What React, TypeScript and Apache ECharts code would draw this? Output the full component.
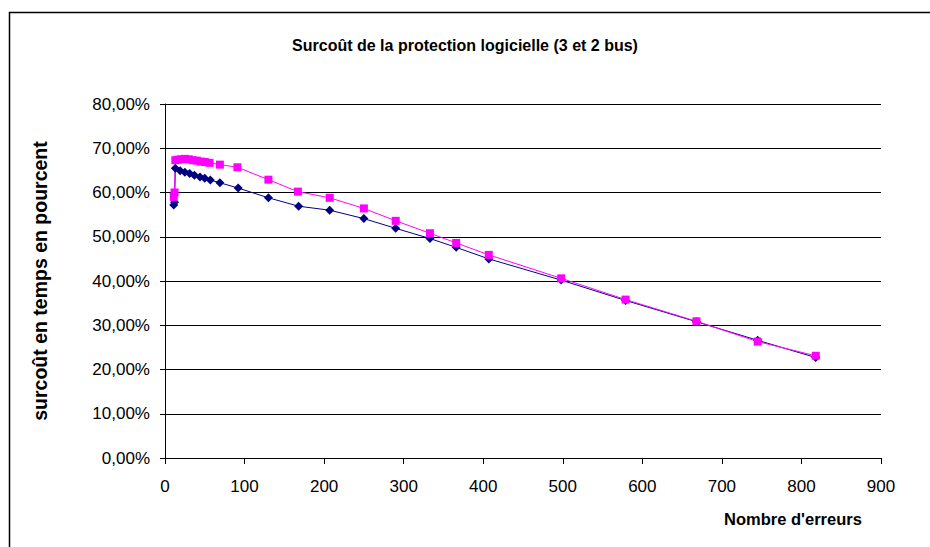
import React, { useEffect, useRef } from "react";
import * as echarts from "echarts";

const titleText = "Surcoût de la protection logicielle (3 et 2 bus)";
const yAxisName = "surcoût en temps en pourcent";
const xAxisName = "Nombre d'erreurs";

const navyX = [11, 12, 13, 19, 25, 31, 37, 44, 50, 57, 69, 92, 130, 168, 207, 250, 290, 333, 366, 407, 498, 579, 668, 745, 818];
const navyY = [57.2, 57.8, 65.5, 64.9, 64.6, 64.3, 63.9, 63.5, 63.2, 62.8, 62.2, 61.0, 58.8, 56.9, 56.0, 54.1, 51.9, 49.6, 47.6, 45.0, 40.2, 35.6, 30.8, 26.6, 22.7];

const pinkX = [11, 12, 13, 16, 20, 25, 30, 35, 40, 45, 50, 56, 69, 91, 130, 167, 207, 250, 290, 333, 366, 407, 498, 579, 668, 745, 818];
const pinkY = [59.0, 60.0, 67.3, 67.4, 67.5, 67.6, 67.5, 67.3, 67.2, 67.0, 66.9, 66.7, 66.3, 65.7, 62.9, 60.2, 58.8, 56.4, 53.6, 50.8, 48.6, 45.9, 40.6, 35.8, 30.9, 26.3, 23.1];

const FONT = "'Liberation Sans', Arial, sans-serif";

export default function App() {
  const ref = useRef<HTMLDivElement>(null);
  useEffect(() => {
    document.body.style.margin = "0";
    const chart = echarts.init(ref.current!, null, { renderer: "svg" });
    chart.setOption({
      animation: false,
      backgroundColor: "#ffffff",
      textStyle: { fontFamily: FONT },
      graphic: [
        {
          type: "rect",
          shape: { x: 9.5, y: 12.5, width: 1000, height: 1000 },
          style: { fill: "none", stroke: "#000", lineWidth: 1.5 },
          silent: true,
        },
        {
          type: "text",
          x: 465,
          y: 45,
          style: {
            text: titleText,
            fontFamily: FONT,
            fontSize: 16,
            fontWeight: "bold",
            fill: "#000",
            textAlign: "center",
            textVerticalAlign: "middle",
          },
        },
        {
          type: "text",
          x: 40,
          y: 281,
          rotation: Math.PI / 2,
          style: {
            text: yAxisName,
            fontFamily: FONT,
            fontSize: 19.5,
            fontWeight: "bold",
            fill: "#000",
            textAlign: "center",
            textVerticalAlign: "middle",
          },
        },
        {
          type: "text",
          x: 793,
          y: 519,
          style: {
            text: xAxisName,
            fontFamily: FONT,
            fontSize: 16.5,
            fontWeight: "bold",
            fill: "#000",
            textAlign: "center",
            textVerticalAlign: "middle",
          },
        },
      ],
      grid: { left: 165, right: 49, top: 104, bottom: 89 },
      xAxis: {
        type: "value",
        min: 0,
        max: 900,
        interval: 100,
        axisLine: { show: true, onZero: false, lineStyle: { color: "#000", width: 1 } },
        axisTick: { show: true, length: 6, lineStyle: { color: "#000" } },
        axisLabel: { color: "#000", fontSize: 17, fontFamily: FONT, margin: 20 },
        splitLine: { show: false },
      },
      yAxis: {
        type: "value",
        min: 0,
        max: 80,
        interval: 10,
        axisLine: { show: true, lineStyle: { color: "#000", width: 1 } },
        axisTick: { show: true, length: 5, lineStyle: { color: "#000" } },
        axisLabel: {
          color: "#000",
          fontSize: 17,
          fontFamily: FONT,
          margin: 15,
          formatter: (v: number) => v.toFixed(2).replace(".", ",") + "%",
        },
        splitLine: { show: true, lineStyle: { color: "#000", width: 1 } },
      },
      series: [
        {
          type: "line",
          name: "3 bus",
          data: navyX.map((x, i) => [x, navyY[i]]),
          symbol: "diamond",
          symbolSize: 9,
          lineStyle: { color: "#000080", width: 1 },
          itemStyle: { color: "#000080" },
        },
        {
          type: "line",
          name: "2 bus",
          data: pinkX.map((x, i) => [x, pinkY[i]]),
          symbol: "rect",
          symbolSize: 8,
          lineStyle: { color: "#ff00ff", width: 1 },
          itemStyle: { color: "#ff00ff" },
        },
      ],
    });
    return () => chart.dispose();
  }, []);
  return <div ref={ref} style={{ width: 930, height: 547 }} />;
}
